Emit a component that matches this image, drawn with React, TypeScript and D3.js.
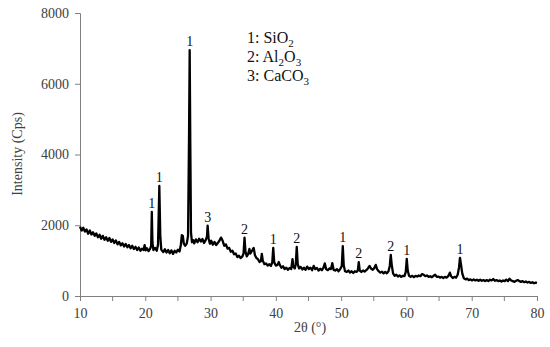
import React, { useEffect, useRef } from "react";
import * as d3 from "d3";

// XRD scan: [2θ (°), intensity (cps)]
const scan: [number, number][] = [
  [10.0, 1960], [10.25, 1850], [10.5, 1930], [10.75, 1820], [11.0, 1880], [11.25, 1760],
  [11.5, 1850], [11.75, 1740], [12.0, 1800], [12.25, 1700], [12.5, 1770], [12.75, 1660],
  [13.0, 1730], [13.25, 1620], [13.5, 1700], [13.75, 1590], [14.0, 1660], [14.25, 1560],
  [14.5, 1640], [14.75, 1530], [15.0, 1600], [15.25, 1500], [15.5, 1570], [15.75, 1460],
  [16.0, 1530], [16.25, 1430], [16.5, 1490], [16.75, 1400], [17.0, 1470], [17.25, 1380],
  [17.5, 1440], [17.75, 1350], [18.0, 1420], [18.25, 1330], [18.5, 1390], [18.75, 1300],
  [19.0, 1370], [19.25, 1280], [19.5, 1340], [19.75, 1300], [19.9, 1440], [20.05, 1290],
  [20.25, 1350], [20.5, 1270], [20.75, 1340], [20.9, 1420], [21.0, 2380], [21.1, 1500],
  [21.25, 1300], [21.5, 1360], [21.75, 1280], [21.95, 1450], [22.15, 3110], [22.3, 1700],
  [22.45, 1310], [22.75, 1240], [23.0, 1320], [23.25, 1230], [23.5, 1300], [23.75, 1210],
  [24.0, 1290], [24.25, 1190], [24.5, 1280], [24.75, 1230], [25.0, 1310], [25.25, 1260],
  [25.45, 1450], [25.6, 1720], [25.75, 1700], [25.9, 1480], [26.1, 1420], [26.35, 1480],
  [26.55, 1700], [26.7, 4500], [26.8, 6950], [26.9, 4200], [27.0, 1800], [27.15, 1520],
  [27.35, 1580], [27.5, 1490], [27.75, 1600], [28.0, 1520], [28.25, 1620], [28.5, 1540],
  [28.75, 1610], [29.0, 1500], [29.25, 1580], [29.45, 1680], [29.55, 1990], [29.7, 1620],
  [29.9, 1480], [30.1, 1560], [30.35, 1450], [30.6, 1530], [30.85, 1440], [31.1, 1500],
  [31.35, 1560], [31.6, 1650], [31.85, 1560], [32.1, 1420], [32.35, 1460], [32.6, 1340],
  [32.85, 1360], [33.1, 1250], [33.35, 1280], [33.6, 1180], [33.85, 1200], [34.1, 1100],
  [34.35, 1140], [34.6, 1070], [34.85, 1110], [35.05, 1200], [35.2, 1650], [35.35, 1250],
  [35.55, 1120], [35.75, 1180], [35.95, 1330], [36.1, 1200], [36.35, 1280], [36.6, 1360],
  [36.8, 1150], [37.0, 1080], [37.25, 1040], [37.5, 960], [37.7, 980], [37.85, 1190],
  [38.0, 1000], [38.25, 900], [38.5, 920], [38.75, 860], [39.0, 900], [39.25, 850],
  [39.45, 950], [39.6, 1360], [39.75, 950], [40.0, 860], [40.25, 880], [40.45, 960],
  [40.6, 880], [40.85, 800], [41.1, 840], [41.35, 760], [41.6, 800], [41.85, 740],
  [42.1, 790], [42.35, 760], [42.55, 1040], [42.7, 820], [42.9, 780], [43.05, 900],
  [43.2, 1390], [43.35, 900], [43.55, 780], [43.8, 820], [44.05, 750], [44.3, 800],
  [44.55, 740], [44.8, 830], [45.05, 760], [45.3, 800], [45.55, 730], [45.8, 850],
  [46.05, 760], [46.3, 790], [46.55, 720], [46.8, 770], [47.05, 730], [47.3, 800],
  [47.5, 920], [47.7, 760], [47.95, 730], [48.2, 780], [48.45, 760], [48.65, 930],
  [48.85, 740], [49.1, 720], [49.35, 760], [49.6, 700], [49.85, 760], [50.1, 850],
  [50.25, 1410], [50.4, 860], [50.6, 700], [50.85, 680], [51.1, 720], [51.35, 660],
  [51.6, 700], [51.85, 650], [52.1, 700], [52.35, 680], [52.55, 720], [52.7, 960],
  [52.85, 720], [53.1, 680], [53.35, 720], [53.6, 690], [53.85, 730], [54.1, 780],
  [54.35, 850], [54.6, 770], [54.85, 740], [55.1, 800], [55.3, 880], [55.5, 760],
  [55.75, 700], [56.0, 660], [56.25, 690], [56.5, 640], [56.75, 680], [57.0, 640],
  [57.25, 700], [57.45, 850], [57.6, 1160], [57.75, 880], [57.95, 640], [58.2, 570],
  [58.45, 600], [58.7, 550], [58.95, 580], [59.2, 540], [59.45, 570], [59.7, 560],
  [59.9, 680], [60.05, 1050], [60.2, 720], [60.4, 570], [60.65, 540], [60.9, 570],
  [61.15, 530], [61.4, 570], [61.65, 550], [61.9, 580], [62.15, 560], [62.4, 620],
  [62.65, 600], [62.9, 560], [63.15, 580], [63.4, 540], [63.65, 560], [63.9, 530],
  [64.15, 570], [64.4, 600], [64.65, 540], [64.9, 550], [65.15, 520], [65.4, 540],
  [65.65, 510], [65.9, 540], [66.15, 520], [66.4, 560], [66.65, 660], [66.85, 560],
  [67.1, 510], [67.35, 540], [67.6, 520], [67.85, 600], [68.05, 800], [68.2, 1080],
  [68.35, 900], [68.55, 640], [68.8, 500], [69.05, 470], [69.3, 490], [69.55, 450],
  [69.8, 470], [70.05, 440], [70.3, 470], [70.55, 440], [70.8, 460], [71.05, 430],
  [71.3, 460], [71.55, 430], [71.8, 450], [72.05, 420], [72.3, 450], [72.55, 420],
  [72.8, 460], [73.05, 440], [73.3, 480], [73.55, 430], [73.8, 450], [74.05, 420],
  [74.3, 440], [74.55, 410], [74.8, 440], [75.05, 420], [75.3, 460], [75.55, 420],
  [75.8, 490], [76.05, 440], [76.3, 420], [76.55, 400], [76.8, 430], [77.05, 450],
  [77.3, 420], [77.55, 400], [77.8, 420], [78.05, 390], [78.3, 410], [78.55, 380],
  [78.8, 400], [79.05, 370], [79.3, 390], [79.55, 360], [79.8, 380], [80.0, 370],
];

// peak markers: 2θ, top intensity, phase number
const peakLabels: [number, number, string][] = [
  [21.0, 2380, "1"], [22.15, 3110, "1"], [26.8, 6950, "1"], [29.55, 1990, "3"],
  [35.2, 1650, "2"], [39.6, 1360, "1"], [43.2, 1390, "2"], [50.25, 1410, "1"],
  [52.7, 960, "2"], [57.6, 1160, "2"], [60.05, 1050, "1"], [68.2, 1080, "1"],
];

// legend rows: number, then [text, isSubscript] pieces
const legendItems: { num: string; parts: [string, boolean][] }[] = [
  { num: "1", parts: [["SiO", false], ["2", true]] },
  { num: "2", parts: [["Al", false], ["2", true], ["O", false], ["3", true]] },
  { num: "3", parts: [["CaCO", false], ["3", true]] },
];

const yTicks = [0, 2000, 4000, 6000, 8000];
const xTicks = [10, 20, 30, 40, 50, 60, 70, 80];
const xMinorTicks = [15, 25, 35, 45, 55, 65, 75];

const W = 550, H = 347;
const FONT = "'Liberation Serif', 'Times New Roman', serif";

export default function App() {
  const svgRef = useRef<SVGSVGElement>(null);

  useEffect(() => {
    const svg = d3.select(svgRef.current);
    svg.selectAll("*").remove();

    const x = d3.scaleLinear().domain([10, 80]).range([80, 537]);
    const y = d3.scaleLinear().domain([0, 8000]).range([296, 13]);

    // y axis
    const yAxis = svg.append("g").attr("transform", "translate(80,0)")
      .call(d3.axisLeft(y).tickValues(yTicks).tickSize(5).tickPadding(6).tickFormat(d3.format("d")));
    // x axis
    const xAxis = svg.append("g").attr("transform", "translate(0,296)")
      .call(d3.axisBottom(x).tickValues(xTicks).tickSize(5).tickPadding(7).tickFormat(d3.format("d")));
    svg.append("g").attr("transform", "translate(0,296)")
      .selectAll("line").data(xMinorTicks).enter().append("line")
      .attr("x1", (d) => x(d)).attr("x2", (d) => x(d))
      .attr("y1", 0).attr("y2", 5).attr("stroke", "#808080");

    [yAxis, xAxis].forEach((g) => {
      g.attr("font-family", FONT);
      g.select(".domain").attr("stroke", "#808080").attr("stroke-width", 1);
      g.selectAll(".tick line").attr("stroke", "#808080");
      g.selectAll(".tick text")
        .attr("fill", "#404040")
        .style("font-family", FONT)
        .style("font-size", "14px");
    });

    // the scan
    const line = d3.line<[number, number]>().x((d) => x(d[0])).y((d) => y(d[1]));
    svg.append("path")
      .datum(scan)
      .attr("d", line)
      .attr("fill", "none")
      .attr("stroke", "#000")
      .attr("stroke-width", 2.3)
      .attr("stroke-linejoin", "round");

    // peak numbers
    svg.selectAll(".peak").data(peakLabels).enter().append("text")
      .attr("class", "peak")
      .attr("x", (d) => x(d[0]))
      .attr("y", (d) => y(d[1]) - 4)
      .attr("text-anchor", "middle")
      .style("font-family", FONT)
      .style("font-size", "14px")
      .attr("fill", "#111")
      .text((d) => d[2]);

    // legend
    legendItems.forEach((item, i) => {
      const t = svg.append("text")
        .attr("x", 247).attr("y", 43 + i * 19)
        .style("font-family", FONT)
        .style("font-size", "16px")
        .attr("fill", "#111");
      t.append("tspan").text(item.num + ": ");
      let lowered = false;
      item.parts.forEach(([s, sub]) => {
        if (sub) {
          t.append("tspan").attr("font-size", "11px").attr("dy", 4).text(s);
          lowered = true;
        } else {
          t.append("tspan").attr("dy", lowered ? -4 : 0).text(s);
          lowered = false;
        }
      });
    });

    // axis titles
    svg.append("text")
      .attr("transform", "translate(22,154) rotate(-90)")
      .attr("text-anchor", "middle")
      .style("font-family", FONT)
      .style("font-size", "14px")
      .attr("fill", "#404040")
      .text("Intensity (Cps)");
    svg.append("text")
      .attr("x", 310).attr("y", 332)
      .attr("text-anchor", "middle")
      .style("font-family", FONT)
      .style("font-size", "14px")
      .attr("fill", "#404040")
      .text("2θ (°)");
  }, []);

  return (
    <svg
      ref={svgRef}
      width={W}
      height={H}
      style={{ position: "absolute", left: 0, top: 0, background: "#fff" }}
    />
  );
}
